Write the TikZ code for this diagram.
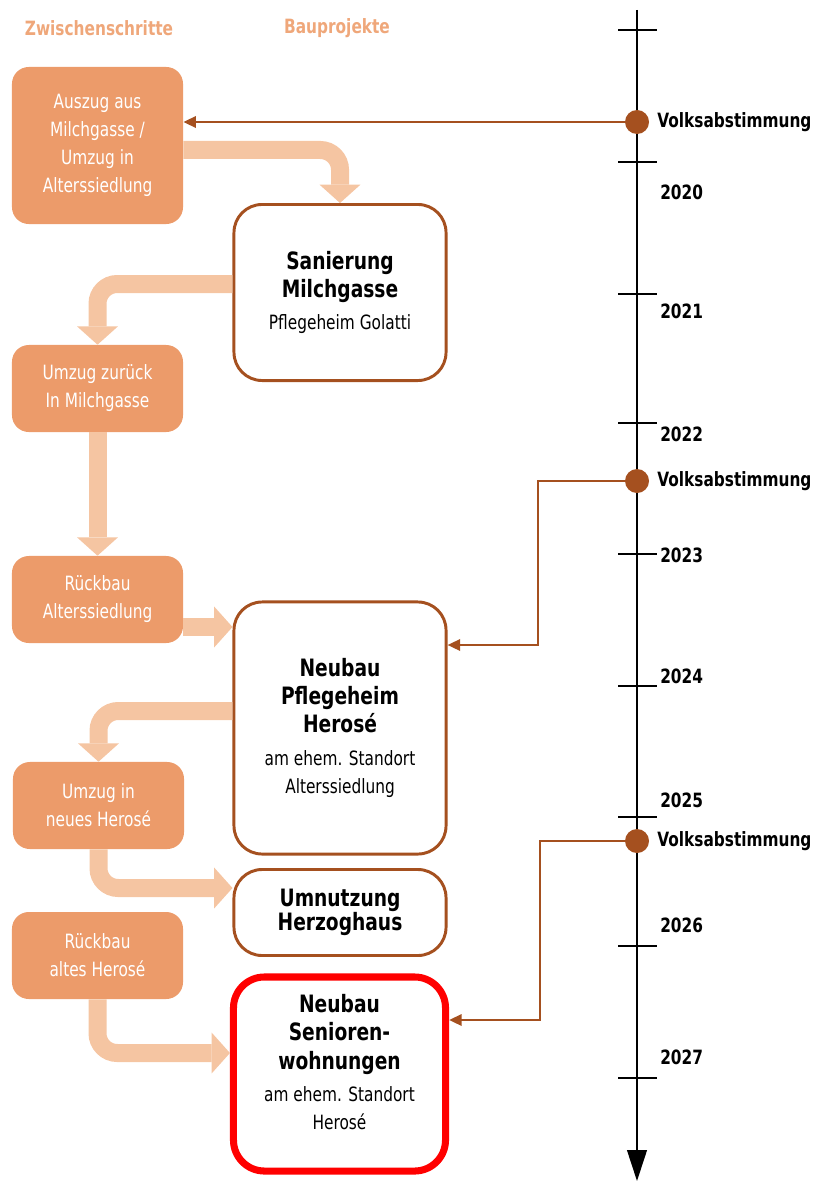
\documentclass[tikz,border=0pt]{standalone}
\usepackage{fontspec}
\setmainfont[FakeStretch=0.78]{DejaVu Sans}
\usetikzlibrary{arrows.meta}
\definecolor{braun}{HTML}{A5501F}
\definecolor{zwfill}{HTML}{EC9B6A}
\definecolor{pfeil}{HTML}{F5C5A2}
\definecolor{kopffarbe}{HTML}{EFA77A}
\newcommand\titel[1]{{\fontsize{17}{20}\selectfont\bfseries #1}}

\begin{document}
\begin{tikzpicture}[x=0.025cm,y=-0.025cm,
    kopf/.style={text=kopffarbe,font=\fontsize{14}{17}\selectfont\bfseries},
    zwischen/.style={fill=zwfill,rounded corners=12pt,text=white,align=center,
      minimum width=4.275cm,inner sep=2pt,font=\fontsize{14}{20}\selectfont},
    projekt/.style={draw=braun,line width=2.1pt,rounded corners=20pt,fill=white,
      align=center,minimum width=5.3cm,font=\fontsize{14}{20}\selectfont},
    flow/.style={draw=pfeil,line width=12.8pt,rounded corners=14pt,
      -{Triangle[length=13pt,width=29pt,line width=0pt]}},
    link/.style={draw=braun,line width=1.8pt,-{Triangle[length=9pt,width=8pt]}},
    achse/.style={line width=1.4pt,-{Triangle[length=22pt,width=14pt]}},
    vote/.style={circle,fill=braun,minimum size=0.6cm,inner sep=0pt},
    jahr/.style={anchor=west,inner sep=0pt,font=\fontsize{14}{17}\selectfont\bfseries}]
  \useasboundingbox (0,0) rectangle (821,1182);

  % Spaltenköpfe
  \node[kopf] (zw) at (99,28) {Zwischenschritte};
  \node[kopf] (bp) at (337,28) {Bauprojekte};

  % Zwischenschritte
  \node[zwischen,minimum height=3.925cm] (auszug) at (97.5,145.5)
    {Auszug aus\\Milchgasse /\\Umzug in\\Alterssiedlung};
  \node[zwischen,minimum height=2.175cm] (zurueck) at (97.5,388.5)
    {Umzug zurück\\In Milchgasse};
  \node[zwischen,minimum height=2.175cm] (rueckbau) at (97.5,599.5)
    {Rückbau\\Alterssiedlung};
  \node[zwischen,minimum height=2.175cm] (umzug) at (98.5,805.5)
    {Umzug in\\neues Herosé};
  \node[zwischen,minimum height=2.175cm] (abbruch) at (97.5,955.5)
    {Rückbau\\altes Herosé};

  % Bauprojekte
  \node[projekt,minimum height=4.4cm] (sanierung) at (340,292.5)
    {\titel{Sanierung}\\\titel{Milchgasse}\\[3pt]Pflegeheim Golatti};
  \node[projekt,minimum height=6.3cm] (neubau) at (340,728)
    {\titel{Neubau}\\\titel{Pflegeheim}\\\titel{Herosé}\\[3pt]am ehem. Standort\\Alterssiedlung};
  \node[projekt,minimum height=2.15cm,font=\fontsize{17}{17}\selectfont\bfseries]
    (umnutzung) at (340,912.5) {Umnutzung\\Herzoghaus};
  \node[projekt,draw=red,line width=5pt,rounded corners=22pt,minimum height=4.85cm,
    text depth=17pt] (senioren) at (339.5,1074)
    {\titel{Neubau}\\\titel{Senioren-}\\\titel{wohnungen}\\[3pt]am ehem. Standort\\Herosé};

  % Zeitachse
  \coordinate (anfang) at (637,10);
  \coordinate (ende) at (637,1181);
  \draw[achse] (anfang) -- (ende);
  \foreach \t in {30,162,294,423,554,686,817,946,1078}
    \draw[line width=1.4pt] (618,\t) -- (657,\t);
  \foreach \j/\t in {2020/192,2021/311,2022/434,2023/555,2024/676,2025/800,2026/925,2027/1057}
    \node[jahr] (j\j) at (660,\t) {\j};

  % Volksabstimmungen
  \node[vote] (v1) at (637,122) {};
  \node[vote] (v2) at (637,481) {};
  \node[vote] (v3) at (637,841) {};
  \node[jahr] (l1) at (657,122) {Volksabstimmung};
  \node[jahr] (l2) at (657,481) {Volksabstimmung};
  \node[jahr] (l3) at (657,841) {Volksabstimmung};
  \draw[link] (v1) -- (v1 -| auszug.east);
  \draw[link] (v2) -- (538,481) |- (neubau.east |- 0,645);
  \draw[link] (v3) -- (540,841) |- (senioren.east |- 0,1020);

  % Abfolge
  \draw[flow] (auszug.east |- 0,150) -| (sanierung.north);
  \draw[flow] (sanierung.west |- 0,284) -| (zurueck.north);
  \draw[flow] (zurueck) -- (rueckbau);
  \draw[flow] (rueckbau.east |- 0,627) -- (neubau.west |- 0,627);
  \draw[flow] (neubau.west |- 0,711) -| (umzug.north);
  \draw[flow] (umzug.south) |- (umnutzung.west |- 0,888);
  \draw[flow] (abbruch.south) |- (senioren.west |- 0,1053);
\end{tikzpicture}
\end{document}
